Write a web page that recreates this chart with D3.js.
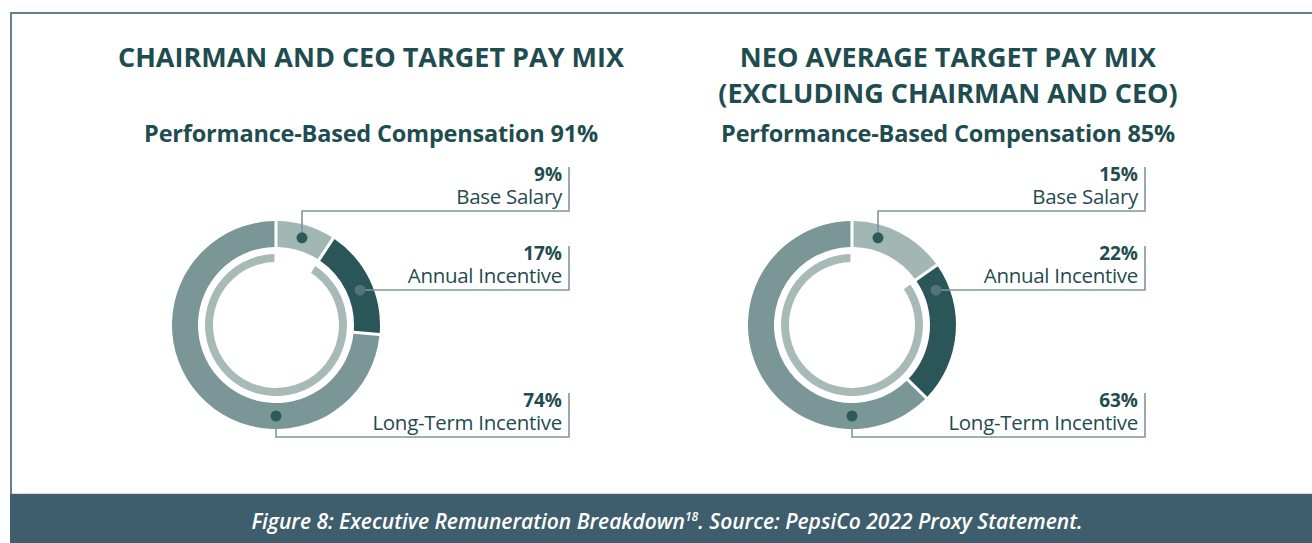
<!DOCTYPE html>
<html>
<head>
<meta charset="utf-8">
<script src="https://cdn.jsdelivr.net/npm/d3@7"></script>
<style>
  html, body { margin: 0; padding: 0; background: #fff; }
  svg text { font-family: "Open Sans", "Noto Sans", sans-serif; }
</style>
</head>
<body>
<div id="chart"></div>
<script>
// data
var categories = ["Base Salary", "Annual Incentive", "Long-Term Incentive"];
var ceoValues = [9, 17, 74];
var neoValues = [15, 22, 63];
var performanceShares = [91, 85];
var panelTitles = [
  ["CHAIRMAN AND CEO TARGET PAY MIX"],
  ["NEO AVERAGE TARGET PAY MIX", "(EXCLUDING CHAIRMAN AND CEO)"]
];
var caption = "Figure 8: Executive Remuneration Breakdown";
var captionNote = "18";
var captionSource = ". Source: PepsiCo 2022 Proxy Statement.";

var W = 1312, H = 543;
var textColor = "#1f4d4f";
var segColors = ["#a2b6b4", "#2b5659", "#7a9696"];
var innerColor = "#a7bab8";
var lineColor = "#7f9898";

var svg = d3.select("#chart").append("svg")
  .attr("width", W).attr("height", H);

// frame + caption band
svg.append("path")
  .attr("d", "M11,494 V13 H1312")
  .attr("fill", "none").attr("stroke", "#62808e").attr("stroke-width", 2);
svg.append("rect").attr("x", 10).attr("y", 494).attr("width", W - 10).attr("height", H - 494)
  .attr("fill", "#3f5e6d");
svg.append("line").attr("x1", 12).attr("x2", W).attr("y1", 493.5).attr("y2", 493.5)
  .attr("stroke", "#d6dcdf").attr("stroke-width", 1);

var cap = svg.append("text")
  .attr("x", 667).attr("y", 529)
  .attr("text-anchor", "middle")
  .attr("fill", "#fff")
  .style("font-size", "21px").style("font-style", "italic").style("font-weight", 600);
cap.append("tspan").text(caption);
cap.append("tspan").attr("dy", -8).style("font-size", "12px").text(captionNote);
cap.append("tspan").attr("dy", 8).text(captionSource);

var panels = [
  {values: ceoValues, cx: 276, titleX: 371, bracketX: 569},
  {values: neoValues, cx: 852, titleX: 948, bracketX: 1145}
];
var cy = 325;
var rOuter = 104, rInner = 78, rMid = 91;

var angle = d3.scaleLinear().domain([0, 100]).range([0, 2 * Math.PI]);
var pie = d3.pie().sort(null).value(d => d).padAngle(0.024);
var arc = d3.arc().innerRadius(rInner).outerRadius(rOuter).padRadius(128);
var innerArc = d3.arc().innerRadius(63).outerRadius(71).padRadius(128).padAngle(0.024);

// where each label's leader meets the ring (degrees) and the leader's y offset
var dotDeg = [16.6, 67.5, 180];
var leaderDy = [-114, -35, 112];

panels.forEach(function(p, k) {
  var g = svg.append("g");

  // titles
  panelTitles[k].forEach(function(t, i) {
    g.append("text")
      .attr("x", p.titleX).attr("y", 67 + i * 36)
      .attr("text-anchor", "middle")
      .attr("fill", textColor)
      .style("font-size", "27px").style("font-weight", 700)
      .text(t);
  });
  g.append("text")
    .attr("x", p.titleX).attr("y", 142)
    .attr("text-anchor", "middle")
    .attr("fill", textColor)
    .style("font-size", "23.5px").style("font-weight", 700)
    .style("letter-spacing", "-0.2px")
    .text("Performance-Based Compensation " + performanceShares[k] + "%");

  var ring = g.append("g").attr("transform", "translate(" + p.cx + "," + cy + ")");
  var arcs = pie(p.values);

  ring.selectAll("path.seg")
    .data(arcs)
    .enter().append("path")
    .attr("class", "seg")
    .attr("d", arc)
    .attr("fill", (d, i) => segColors[i]);

  // inner ring = performance-based share
  ring.append("path")
    .attr("d", innerArc({startAngle: angle(p.values[0]), endAngle: angle(100)}))
    .attr("fill", innerColor);

  // leaders + labels
  categories.forEach(function(c, i) {
    var a = dotDeg[i] * Math.PI / 180;
    var dx = p.cx + Math.sin(a) * rMid;
    var dy = cy - Math.cos(a) * rMid;
    var ly = cy + leaderDy[i];

    g.append("path")
      .attr("d", "M" + dx + "," + dy + " V" + ly + " H" + p.bracketX + " V" + (ly - 44))
      .attr("fill", "none")
      .attr("stroke", lineColor).attr("stroke-width", 1.6);

    g.append("circle")
      .attr("cx", dx).attr("cy", dy).attr("r", 5.5)
      .attr("fill", i === 1 ? "#55747a" : "#2e5a5c");

    g.append("text")
      .attr("x", p.bracketX - 7).attr("y", ly - 30)
      .attr("text-anchor", "end")
      .attr("fill", textColor)
      .style("font-size", "19px").style("font-weight", 700)
      .text(p.values[i] + "%");
    g.append("text")
      .attr("x", p.bracketX - 7).attr("y", ly - 7)
      .attr("text-anchor", "end")
      .attr("fill", textColor)
      .style("font-size", "20.5px")
      .style("letter-spacing", "-0.3px")
      .text(c);
  });
});
</script>
</body>
</html>
